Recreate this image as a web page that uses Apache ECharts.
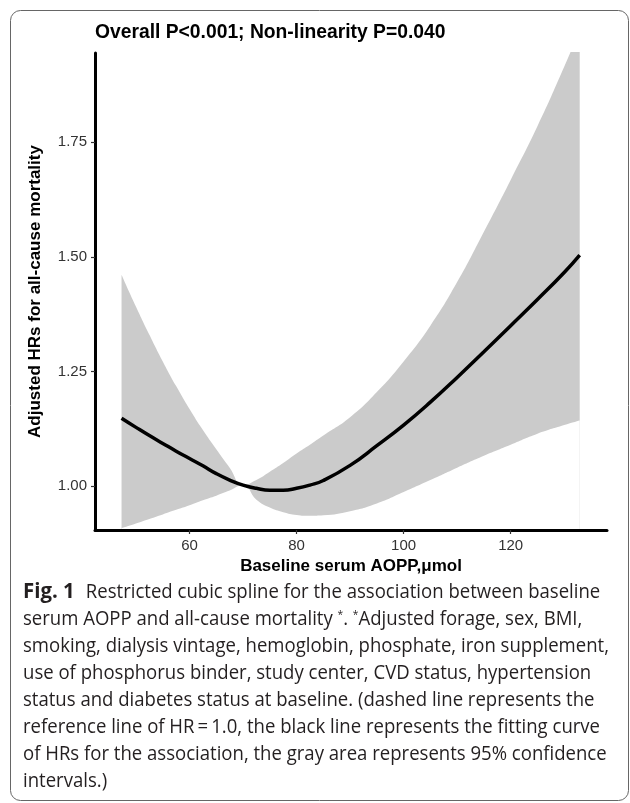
<!DOCTYPE html>
<html>
<head>
<meta charset="utf-8">
<script src="https://cdn.jsdelivr.net/npm/echarts@6/dist/echarts.min.js"></script>
<style>
  html, body { margin: 0; padding: 0; background: #fff; }
  #chart { width: 630px; height: 803px; }
</style>
</head>
<body>
<div id="chart"></div>
<script>
// AOPP values (x) and the spline estimates
const aopp  = [47.3, 50, 52.5, 55, 57.5, 60, 62.5, 65, 67.5, 70, 72.5, 75, 77.5, 80, 82.5, 85, 90, 95, 100, 105, 110, 115, 120, 125, 130, 132.9];
const hr    = [1.148, 1.128, 1.110, 1.093, 1.076, 1.060, 1.044, 1.027, 1.013, 1.002, 0.995, 0.991, 0.991, 0.995, 1.002, 1.012, 1.045, 1.088, 1.133, 1.183, 1.237, 1.293, 1.350, 1.407, 1.466, 1.504];
const lower = [0.908, 0.918, 0.928, 0.938, 0.948, 0.958, 0.969, 0.979, 0.990, 1.002, 0.970, 0.953, 0.943, 0.937, 0.935, 0.936, 0.945, 0.962, 0.987, 1.013, 1.040, 1.066, 1.090, 1.114, 1.133, 1.143];
const upper = [1.461, 1.391, 1.330, 1.272, 1.218, 1.168, 1.122, 1.080, 1.040, 1.002, 1.013, 1.031, 1.050, 1.071, 1.090, 1.110, 1.150, 1.205, 1.272, 1.350, 1.445, 1.555, 1.668, 1.785, 1.915, 1.995];

const xTicks = [60, 80, 100, 120];
const yTicks = [1.00, 1.25, 1.50, 1.75];

const titleText = 'Overall P<0.001; Non-linearity P=0.040';
const xName = 'Baseline serum AOPP,\u03bcmol';
const yName = 'Adjusted HRs for all-cause mortality';

// figure caption, one entry per printed line
const caption = [
  '{b|Fig. 1}Restricted cubic spline for the association between baseline',
  'serum AOPP and all-cause mortality {s|*}. {s|*}Adjusted forage, sex, BMI,',
  'smoking, dialysis vintage, hemoglobin, phosphate, iron supplement,',
  'use of phosphorus binder, study center, CVD status, hypertension',
  'status and diabetes status at baseline. (dashed line represents the',
  'reference line of HR\u2009=\u20091.0, the black line represents the fitting curve',
  'of HRs for the association, the gray area represents 95% confidence',
  'intervals.)'
];

const chart = echarts.init(document.getElementById('chart'));

// squeeze the caption font so a full line spans the same width as in the print
const capFont = 'Open Sans';
const ctx = document.createElement('canvas').getContext('2d');
ctx.font = '20px "' + capFont + '"';
const capScale = 586 / ctx.measureText(caption[2]).width;

const curveData = aopp.map((x, i) => [x, hr[i]]);
const lowData = aopp.map((x, i) => [x, lower[i]]);
const upData = aopp.map((x, i) => [x, upper[i]]);

const axisFont = { fontFamily: 'Liberation Sans', fontWeight: 'bold', fontSize: 17, color: '#000' };

const option = {
  backgroundColor: '#fff',
  animation: false,
  title: {
    text: titleText,
    left: 95,
    top: 23,
    padding: 0,
    textStyle: { fontFamily: 'Liberation Sans', fontWeight: 'bold', fontSize: 19.3, color: '#000' }
  },
  grid: { left: 95, right: 23, top: 53, bottom: 273 },
  xAxis: {
    type: 'value',
    min: 42.34,
    max: 138.0,
    z: 10,
    name: xName,
    nameLocation: 'middle',
    nameGap: 27,
    nameTextStyle: axisFont,
    axisLine: { lineStyle: { color: '#000', width: 3 } },
    axisTick: { customValues: xTicks, length: 4, lineStyle: { color: '#333', width: 1.2 } },
    axisLabel: { customValues: xTicks, margin: 8, fontFamily: 'Liberation Sans', fontSize: 15, color: '#333' },
    splitLine: { show: false }
  },
  yAxis: {
    type: 'value',
    min: 0.904,
    max: 1.945,
    z: 10,
    name: yName,
    nameLocation: 'middle',
    nameGap: 51,
    nameTextStyle: axisFont,
    axisLine: { show: true, lineStyle: { color: '#000', width: 3 } },
    axisTick: { show: true, customValues: yTicks, length: 4, lineStyle: { color: '#333', width: 1.2 } },
    axisLabel: { customValues: yTicks, margin: 8, fontFamily: 'Liberation Sans', fontSize: 15, color: '#333',
      formatter: v => v.toFixed(2) },
    splitLine: { show: false }
  },
  series: [
    {
      // upper limit filled down to the axis
      name: 'upper',
      type: 'line',
      data: upData,
      smooth: true,
      symbol: 'none',
      lineStyle: { opacity: 0 },
      areaStyle: { color: '#cbcbcb', opacity: 1, origin: 'start' },
      silent: true,
      z: 1
    },
    {
      // lower limit, white below it so only the interval stays grey
      name: 'lower',
      type: 'line',
      data: lowData,
      smooth: true,
      symbol: 'none',
      lineStyle: { opacity: 0 },
      areaStyle: { color: '#fff', opacity: 1, origin: 'start' },
      silent: true,
      z: 2
    },
    {
      name: 'HR',
      type: 'line',
      data: curveData,
      smooth: true,
      symbol: 'none',
      lineStyle: { color: '#000', width: 3.5 },
      z: 5
    }
  ],
  graphic: [
    {
      type: 'rect',
      shape: { x: 10.5, y: 10.5, width: 618, height: 790, r: 10 },
      style: { fill: 'none', stroke: '#666', lineWidth: 1 },
      silent: true
    }
  ].concat(caption.map((t, i) => ({
    type: 'text',
    x: 23,
    y: 592 + i * 27.1,
    scaleX: capScale,
    style: {
      text: t,
      fontFamily: capFont,
      fontSize: 20,
      fill: '#231f20',
      verticalAlign: 'middle',
      rich: {
        b: { fontFamily: capFont, fontSize: 22, fontWeight: 'bold', fill: '#231f20', padding: [0, 12, 0, 0] },
        s: { fontFamily: capFont, fontSize: 11, fill: '#231f20', verticalAlign: 'top' }
      }
    },
    silent: true
  })))
};

chart.setOption(option);
</script>
</body>
</html>
